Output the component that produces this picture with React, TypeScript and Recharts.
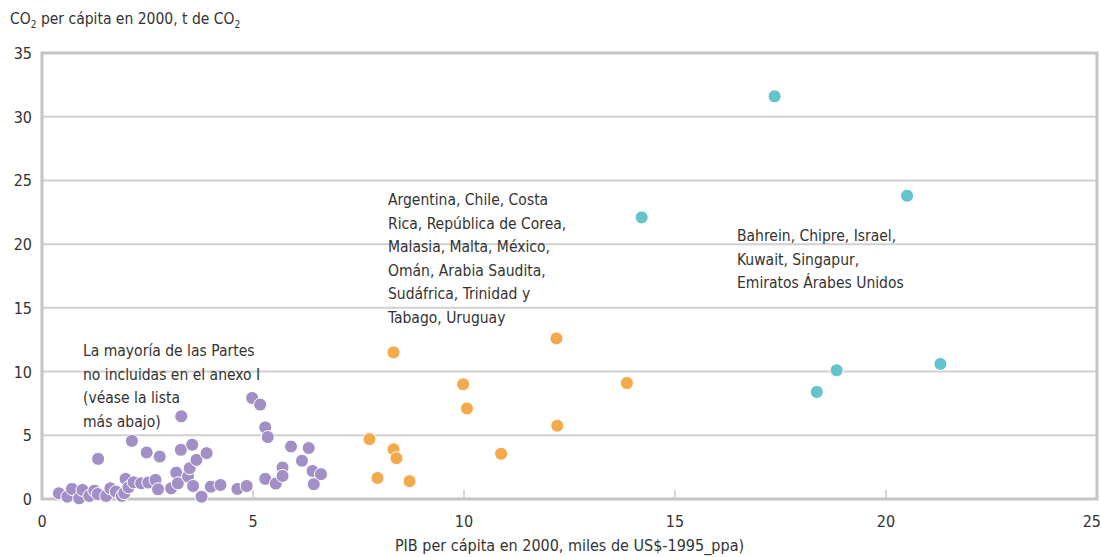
import * as React from 'react';
import { ScatterChart, Scatter, XAxis, YAxis, CartesianGrid, ReferenceArea, Label } from 'recharts';

const xTicks = [0, 5, 10, 15, 20, 25];
const yTicks = [0, 5, 10, 15, 20, 25, 30, 35];

// GDP per capita (thousand US$ 1995 ppp), CO2 per capita (t)
const purpleX = [0.4, 0.6, 0.71, 0.88, 0.96, 1.12, 1.24, 1.32, 1.33, 1.52, 1.62, 1.75, 1.89, 1.95, 1.98, 2.05, 2.13, 2.17, 2.35, 2.48, 2.52, 2.69, 2.75, 2.79, 3.06, 3.18, 3.22, 3.29, 3.3, 3.46, 3.5, 3.56, 3.58, 3.66, 3.78, 3.9, 4.0, 4.23, 4.63, 4.85, 4.98, 5.17, 5.29, 5.35, 5.29, 5.54, 5.7, 5.7, 5.9, 6.16, 6.32, 6.41, 6.44, 6.61];
const purpleY = [0.45, 0.18, 0.79, 0.05, 0.71, 0.24, 0.65, 0.39, 3.15, 0.24, 0.84, 0.58, 0.24, 0.45, 1.58, 0.92, 4.56, 1.31, 1.23, 3.65, 1.29, 1.5, 0.76, 3.33, 0.84, 2.07, 1.23, 3.86, 6.49, 1.76, 2.42, 4.26, 1.02, 3.07, 0.18, 3.6, 0.97, 1.1, 0.79, 1.02, 7.93, 7.41, 5.62, 4.86, 1.58, 1.21, 2.47, 1.81, 4.12, 3.0, 4.0, 2.2, 1.16, 1.95];

const orangeX = [12.19, 8.33, 9.98, 10.07, 13.86, 12.21, 7.76, 8.33, 8.4, 10.88, 7.95, 8.71];
const orangeY = [12.6, 11.5, 9.0, 7.1, 9.1, 5.75, 4.7, 3.9, 3.2, 3.55, 1.65, 1.4];

const tealX = [17.36, 14.21, 20.5, 18.83, 18.36, 21.29];
const tealY = [31.6, 22.1, 23.8, 10.1, 8.4, 10.6];

const zip = (xs: number[], ys: number[]) => xs.map((x, i) => ({ x, y: ys[i] }));

const purpleData = zip(purpleX, purpleY);
const orangeData = zip(orangeX, orangeY);
const tealData = zip(tealX, tealY);

const FONT = '"Liberation Sans Narrow", "DejaVu Sans Condensed", "Roboto", sans-serif';

const dot = (color: string) => (props: any) => (
  <circle cx={props.cx} cy={props.cy} r={6.5} fill={color} stroke="#ffffff" strokeWidth={1} />
);

const XTick = (props: any) => {
  const { x, y, payload } = props;
  const last = payload.value === 25;
  return (
    <g>
      <line x1={x} x2={x} y1={y} y2={y - 9} stroke="#c8c8c8" strokeWidth={1.5} />
      <text
        x={last ? x + 4 : x}
        y={y + 28}
        textAnchor={last ? 'end' : 'middle'}
        fill="#333"
        fontSize={16}
        fontFamily={FONT}
      >
        {payload.value}
      </text>
    </g>
  );
};

const YTick = (props: any) => {
  const { x, y, payload } = props;
  return (
    <text x={x - 10} y={y + 6} textAnchor="end" fill="#333" fontSize={16} fontFamily={FONT}>
      {payload.value}
    </text>
  );
};

const noteStyle: React.CSSProperties = {
  position: 'absolute',
  fontFamily: FONT,
  fontSize: 15.5,
  lineHeight: '23.5px',
  color: '#333',
  whiteSpace: 'pre',
};

export default function App() {
  return (
    <div style={{ position: 'absolute', left: 0, top: 0, width: 1101, height: 557, background: '#fff' }}>
      <div style={{ ...noteStyle, left: 10, top: 8, fontSize: 15.5 }}>
        CO<sub style={{ fontSize: 10 }}>2</sub> per cápita en 2000, t de CO<sub style={{ fontSize: 10 }}>2</sub>
      </div>
      <ScatterChart width={1101} height={557} margin={{ top: 53, right: 4, left: 0, bottom: 0 }}>
        <CartesianGrid vertical={false} stroke="#d0d0d0" strokeWidth={2} />
        <ReferenceArea x1={0} x2={25} y1={0} y2={35} fill="none" stroke="#c4c4c4" strokeWidth={3} />
        <XAxis
          type="number"
          dataKey="x"
          domain={[0, 25]}
          ticks={xTicks}
          axisLine={false}
          tickLine={false}
          tickSize={0}
          tickMargin={0}
          height={58}
          tick={<XTick />}
          interval={0}
        >
          <Label
            value="PIB per cápita en 2000, miles de US$-1995_ppa)"
            position="insideBottom"
            offset={6}
            fill="#333"
            fontSize={16}
            fontFamily={FONT}
          />
        </XAxis>
        <YAxis
          type="number"
          dataKey="y"
          domain={[0, 35]}
          ticks={yTicks}
          axisLine={false}
          tickLine={false}
          tickSize={0}
          tickMargin={0}
          width={42}
          tick={<YTick />}
          interval={0}
        />
        <Scatter data={purpleData} fill="#a28fc6" shape={dot('#a28fc6')} isAnimationActive={false} />
        <Scatter data={orangeData} fill="#f4a94b" shape={dot('#f4a94b')} isAnimationActive={false} />
        <Scatter data={tealData} fill="#63c4cb" shape={dot('#63c4cb')} isAnimationActive={false} />
      </ScatterChart>
      <div style={{ ...noteStyle, left: 83, top: 340 }}>
        {'La mayoría de las Partes\nno incluidas en el anexo I\n(véase la lista\nmás abajo)'}
      </div>
      <div style={{ ...noteStyle, left: 388, top: 189 }}>
        {'Argentina, Chile, Costa\nRica, República de Corea,\nMalasia, Malta, México,\nOmán, Arabia Saudita,\nSudáfrica, Trinidad y\nTabago, Uruguay'}
      </div>
      <div style={{ ...noteStyle, left: 737, top: 225 }}>
        {'Bahrein, Chipre, Israel,\nKuwait, Singapur,\nEmiratos Árabes Unidos'}
      </div>
    </div>
  );
}
